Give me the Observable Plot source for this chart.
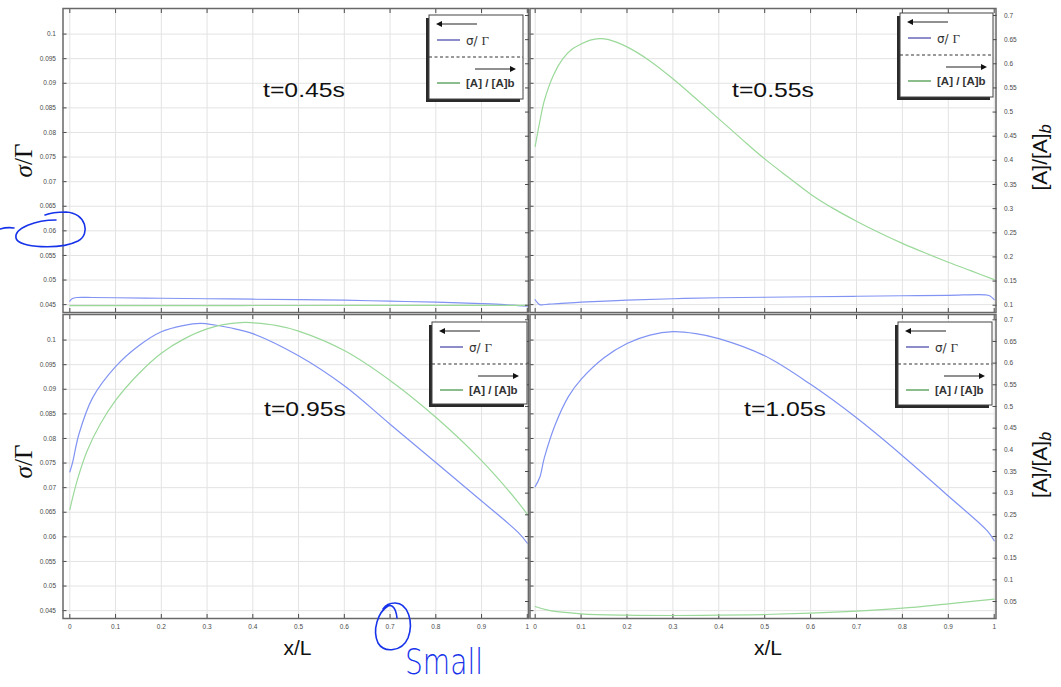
<!DOCTYPE html>
<html><head><meta charset="utf-8">
<script src="https://cdn.jsdelivr.net/npm/d3@7"></script>
<script src="https://cdn.jsdelivr.net/npm/@observablehq/plot@0.6"></script>
<style>
html,body{margin:0;padding:0;background:#fff;}
#chart{position:relative;width:1061px;height:687px;overflow:hidden;background:#fff;}
#chart svg{position:absolute;left:0;top:0;}
</style></head><body><div id="chart"></div>
<script>
// ---------- data ----------
const xTicks = [0, 0.1, 0.2, 0.3, 0.4, 0.5, 0.6, 0.7, 0.8, 0.9, 1];
const sigmaTicks = [0.045, 0.05, 0.055, 0.06, 0.065, 0.07, 0.075, 0.08, 0.085, 0.09, 0.095, 0.1];
const concTicksTop = [0.1, 0.15, 0.2, 0.25, 0.3, 0.35, 0.4, 0.45, 0.5, 0.55, 0.6, 0.65, 0.7];
const concTicksBottom = [0.05, 0.1, 0.15, 0.2, 0.25, 0.3, 0.35, 0.4, 0.45, 0.5, 0.55, 0.6, 0.65, 0.7];
const timeLabels = ["t=0.45s", "t=0.55s", "t=0.95s", "t=1.05s"];

// t = 0.45 s
const sigmaX045 = [0, 0.005, 0.015, 0.05, 0.1, 0.2, 0.3, 0.4, 0.5, 0.6, 0.7, 0.8, 0.9, 0.95, 0.98, 1.0];
const sigma045  = [0.0457, 0.0462, 0.04645, 0.04645, 0.0464, 0.0463, 0.0462, 0.0461, 0.0460, 0.0459, 0.0457, 0.0455, 0.0452, 0.0450, 0.0448, 0.0447];
const concX045  = [0, 0.25, 0.5, 0.75, 1.0];
const conc045   = [0.0993, 0.0993, 0.0994, 0.0995, 0.0996];

// t = 0.55 s
const sigmaX055 = [0, 0.004, 0.01, 0.03, 0.05, 0.1, 0.2, 0.3, 0.4, 0.5, 0.6, 0.7, 0.8, 0.9, 0.98, 0.99, 1.0];
const sigma055  = [0.0460, 0.0455, 0.0450, 0.0451, 0.0452, 0.0455, 0.0459, 0.0462, 0.0464, 0.0465, 0.0466, 0.0467, 0.0468, 0.0469, 0.0470, 0.0468, 0.0460];
const concX055  = [0, 0.01, 0.02, 0.04, 0.06, 0.08, 0.1, 0.12, 0.14, 0.16, 0.2, 0.25, 0.3, 0.35, 0.4, 0.45, 0.5, 0.55, 0.6, 0.65, 0.7, 0.75, 0.8, 0.85, 0.9, 0.95, 1.0];
const conc055   = [0.429, 0.48, 0.524, 0.577, 0.61, 0.63, 0.641, 0.649, 0.652, 0.65, 0.635, 0.606, 0.569, 0.528, 0.486, 0.444, 0.403, 0.366, 0.330, 0.300, 0.274, 0.250, 0.228, 0.208, 0.189, 0.171, 0.153];

// t = 0.95 s
const sigmaX095 = [0, 0.006, 0.02, 0.05, 0.1, 0.15, 0.2, 0.25, 0.285, 0.3, 0.35, 0.4, 0.5, 0.6, 0.7, 0.8, 0.9, 0.98, 1.0];
const sigma095  = [0.0732, 0.0751, 0.0809, 0.0883, 0.0946, 0.0988, 0.1017, 0.1030, 0.1034, 0.1033, 0.1025, 0.1013, 0.0968, 0.0907, 0.0829, 0.0751, 0.0673, 0.0609, 0.0587];
const concX095  = [0, 0.016, 0.038, 0.067, 0.1, 0.15, 0.2, 0.25, 0.3, 0.35, 0.383, 0.4, 0.45, 0.5, 0.6, 0.7, 0.8, 0.9, 0.98, 1.0];
const conc095   = [0.262, 0.329, 0.398, 0.460, 0.514, 0.575, 0.623, 0.656, 0.679, 0.691, 0.694, 0.693, 0.687, 0.674, 0.629, 0.560, 0.475, 0.375, 0.279, 0.251];

// t = 1.05 s
const sigmaX105 = [0, 0.01, 0.02, 0.044, 0.073, 0.1, 0.15, 0.2, 0.25, 0.3, 0.35, 0.4, 0.5, 0.6, 0.7, 0.8, 0.9, 0.985, 1.0];
const sigma105  = [0.0702, 0.0721, 0.0761, 0.0829, 0.0886, 0.0920, 0.0964, 0.0993, 0.1010, 0.1017, 0.1013, 0.1003, 0.0968, 0.0910, 0.0842, 0.0765, 0.0683, 0.0612, 0.0592];
const concX105  = [0, 0.03, 0.1, 0.2, 0.3, 0.4, 0.5, 0.6, 0.7, 0.8, 0.9, 1.0];
const conc105   = [0.0385, 0.0294, 0.0216, 0.0184, 0.0177, 0.0184, 0.020, 0.023, 0.0277, 0.0346, 0.0447, 0.0553];

// ---------- layout ----------
const W = 1061, H = 687;
const sigmaDomain = [0.0434, 0.1052];
const rows = (xs, ys) => xs.map((x, i) => ({x, y: ys[i]}));
const fmt = d => d3.format("~g")(d);
const blank = () => "";
const blueLine = "#8193f3", greenLine = "#9bd99a";

const panels = [
  {left: 62.5, right: 528, top: 8, bottom: 312, xDomain: [-0.0149, 1.0026], concDomain: [0.0849, 0.7145], concTicks: concTicksTop,
   sigma: rows(sigmaX045, sigma045), conc: rows(concX045, conc045), showLeft: true, showRight: false, showX: false},
  {left: 529.5, right: 995.5, top: 8, bottom: 312, xDomain: [-0.0113, 1.0039], concDomain: [0.0849, 0.7145], concTicks: concTicksTop,
   sigma: rows(sigmaX055, sigma055), conc: rows(concX055, conc055), showLeft: false, showRight: true, showX: false},
  {left: 62.5, right: 528, top: 314, bottom: 618, xDomain: [-0.0149, 1.0026], concDomain: [0.0108, 0.7122], concTicks: concTicksBottom,
   sigma: rows(sigmaX095, sigma095), conc: rows(concX095, conc095), showLeft: true, showRight: false, showX: true},
  {left: 529.5, right: 995.5, top: 314, bottom: 618, xDomain: [-0.0113, 1.0039], concDomain: [0.0108, 0.7122], concTicks: concTicksBottom,
   sigma: rows(sigmaX105, sigma105), conc: rows(concX105, conc105), showLeft: false, showRight: true, showX: true}
];

const chart = document.getElementById("chart");
const baseStyle = {background: "transparent", fontFamily: "Liberation Sans, Arial, sans-serif", fontSize: "6.5px", color: "#4a4a4a", overflow: "visible"};

function layer(p, kind) {
  const sig = kind === "sigma";
  const marks = [];
  if (sig) {
    marks.push(Plot.gridX(xTicks, {stroke: "#e3e3e3", strokeOpacity: 1, strokeWidth: 1}));
    marks.push(Plot.gridY(sigmaTicks, {stroke: "#e3e3e3", strokeOpacity: 1, strokeWidth: 1}));
    marks.push(Plot.line(p.sigma, {x: "x", y: "y", stroke: blueLine, strokeWidth: 1.2, curve: "catmull-rom"}));
    marks.push(Plot.axisX(xTicks, {anchor: "bottom", tickSize: -4, tickPadding: 10, tickFormat: p.showX ? fmt : blank, label: null}));
    marks.push(Plot.axisX(xTicks, {anchor: "top", tickSize: -4, tickPadding: 10, tickFormat: blank, label: null}));
    marks.push(Plot.axisY(sigmaTicks, {anchor: "left", tickSize: -4, tickPadding: 11, tickFormat: p.showLeft ? fmt : blank, label: null}));
    marks.push(Plot.frame({stroke: "#686868", strokeWidth: 1.5}));
  } else {
    marks.push(Plot.line(p.conc, {x: "x", y: "y", stroke: greenLine, strokeWidth: 1.2, curve: "catmull-rom"}));
    marks.push(Plot.axisY(p.concTicks, {anchor: "right", tickSize: -4, tickPadding: 12, tickFormat: p.showRight ? fmt : blank, label: null}));
  }
  return Plot.plot({
    width: W, height: H,
    marginLeft: p.left, marginRight: W - p.right, marginTop: p.top, marginBottom: H - p.bottom,
    x: {domain: p.xDomain, label: null, axis: sig ? undefined : null},
    y: {domain: sig ? sigmaDomain : p.concDomain, label: null},
    style: baseStyle,
    marks
  });
}

for (const p of panels) {
  chart.appendChild(layer(p, "sigma"));
  chart.appendChild(layer(p, "conc"));
}

// ---------- titles, time labels, legends, hand annotations ----------
const legendBoxes = [
  {x: 429, y: 15, w: 94, h: 84},
  {x: 900, y: 13, w: 93, h: 84},
  {x: 432, y: 322, w: 95, h: 82},
  {x: 898, y: 322, w: 94, h: 83}
];
const timePos = [{x: 263, y: 97}, {x: 732, y: 97}, {x: 264, y: 416}, {x: 744, y: 416}];

function legendSvg(b) {
  const {x, y, w, h} = b;
  return `
  <rect x="${x - 3}" y="${y + 3}" width="${w}" height="${h}" fill="#2a2a2a"/>
  <rect x="${x}" y="${y}" width="${w}" height="${h}" fill="#fff" stroke="#444" stroke-width="1"/>
  <line x1="${x + 11}" y1="${y + 9}" x2="${x + 48}" y2="${y + 9}" stroke="#222" stroke-width="1.2"/>
  <path d="M${x + 7},${y + 9} L${x + 13},${y + 6} L${x + 13},${y + 12} Z" fill="#111"/>
  <line x1="${x + 8}" y1="${y + 25}" x2="${x + 31}" y2="${y + 25}" stroke="#4040a8" stroke-width="1.2"/>
  <text x="${x + 37}" y="${y + 30}" font-size="12" fill="#333"><tspan font-family="DejaVu Sans, sans-serif">σ/ </tspan><tspan font-family="Liberation Serif, serif" font-size="13">Γ</tspan></text>
  <line x1="${x}" y1="${y + 42}" x2="${x + w}" y2="${y + 42}" stroke="#333" stroke-width="1" stroke-dasharray="3,2.5"/>
  <line x1="${x + 46}" y1="${y + 54}" x2="${x + 82}" y2="${y + 54}" stroke="#222" stroke-width="1.2"/>
  <path d="M${x + 87},${y + 54} L${x + 81},${y + 51} L${x + 81},${y + 57} Z" fill="#111"/>
  <line x1="${x + 8}" y1="${y + 68}" x2="${x + 31}" y2="${y + 68}" stroke="#3f9140" stroke-width="1.2"/>
  <text x="${x + 37}" y="${y + 72}" font-family="Liberation Sans, Arial, sans-serif" font-weight="bold" font-size="11.5" fill="#333">[A] / [A]b</text>`;
}

const ink = "#1733ea";
const overlay = `
<svg width="${W}" height="${H}" xmlns="http://www.w3.org/2000/svg" style="position:absolute;left:0;top:0">
  <text transform="translate(32,160.5) rotate(-90)" text-anchor="middle" font-family="Liberation Serif, serif" font-size="25" fill="#111"><tspan font-style="italic">σ</tspan>/Γ</text>
  <text transform="translate(32,461.5) rotate(-90)" text-anchor="middle" font-family="Liberation Serif, serif" font-size="25" fill="#111"><tspan font-style="italic">σ</tspan>/Γ</text>
  <text transform="translate(1047,157.5) rotate(-90)" text-anchor="middle" font-family="Liberation Sans, Arial, sans-serif" font-size="21" fill="#111">[A]/[A]<tspan font-style="italic" font-size="16" dy="4">b</tspan></text>
  <text transform="translate(1047,465) rotate(-90)" text-anchor="middle" font-family="Liberation Sans, Arial, sans-serif" font-size="21" fill="#111">[A]/[A]<tspan font-style="italic" font-size="16" dy="4">b</tspan></text>
  <text x="297.5" y="655" text-anchor="middle" font-family="Liberation Sans, Arial, sans-serif" font-size="21" fill="#111">x/L</text>
  <text x="768" y="655" text-anchor="middle" font-family="Liberation Sans, Arial, sans-serif" font-size="21" fill="#111">x/L</text>
  ${timeLabels.map((t, i) => `<text x="${timePos[i].x}" y="${timePos[i].y}" textLength="82" lengthAdjust="spacingAndGlyphs" font-family="Liberation Sans, Arial, sans-serif" font-size="21" fill="#111">${t}</text>`).join("")}
  ${legendBoxes.map(legendSvg).join("")}
  <g fill="none" stroke="${ink}" stroke-width="1.6" stroke-linecap="round">
    <path d="M0,229 Q7,227 14,228"/>
    <path d="M56,220 C36,220 14,228 16,238 C18,248 60,250 78,241 C91,234 86,213 66,212 C58,212 50,213 45,215"/>
    <path d="M397,618 C396,608 392,604 388,606 C378,612 372,630 378,643 C384,653 402,652 408,638 C414,622 408,603 395,603 C389,603 385,606 383,609"/>
  </g>
  <text x="405" y="674" textLength="78" lengthAdjust="spacingAndGlyphs" font-family="DejaVu Sans, sans-serif" font-weight="200" font-size="36" fill="${ink}">Small</text>
</svg>`;
chart.insertAdjacentHTML("beforeend", overlay);
</script></body></html>
